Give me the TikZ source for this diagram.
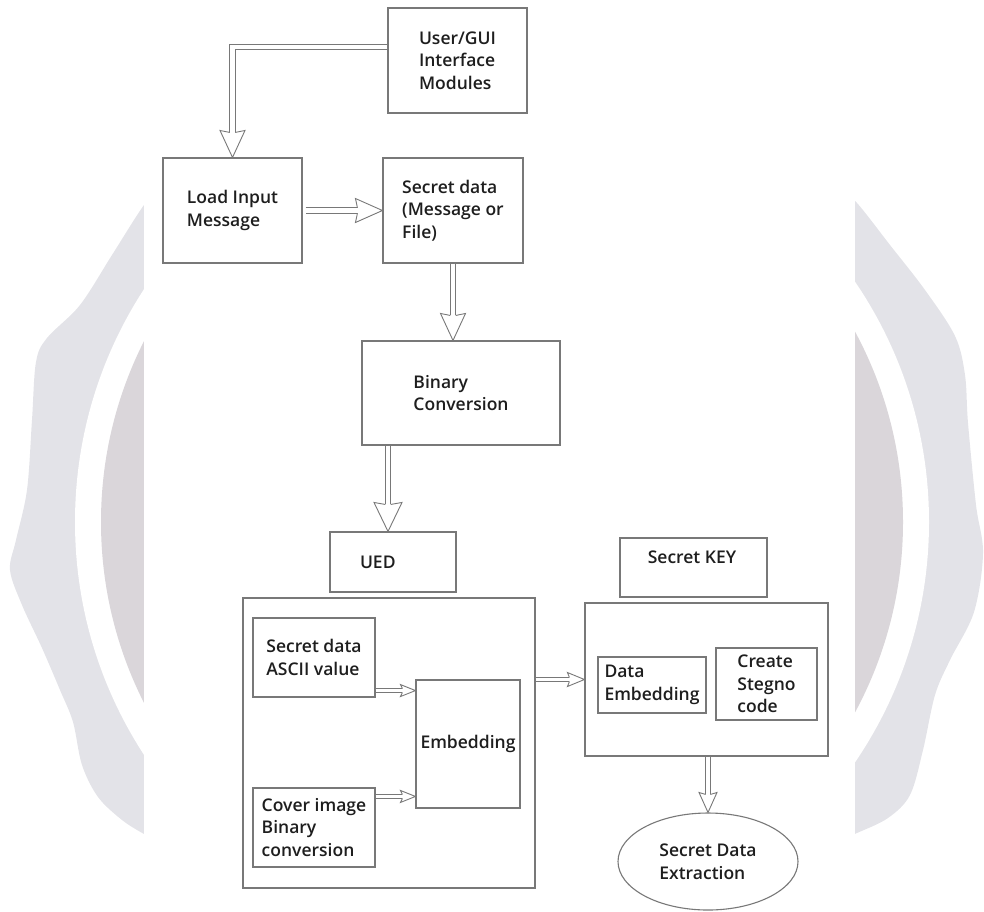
\documentclass[tikz,border=0pt]{standalone}
\usepackage{fontspec}
\setmainfont{Open Sans}
\newfontfamily\boxfont{Open Sans}[UprightFont={* Semibold}]
\usetikzlibrary{calc,shapes.geometric}
\definecolor{wmout}{RGB}{227,227,232}
\definecolor{wmin}{RGB}{218,214,218}
\definecolor{edge}{RGB}{120,120,120}
\definecolor{txt}{RGB}{30,30,30}
\tikzset{
  box/.style={draw=edge, line width=1.1pt, rectangle, inner sep=0pt, align=left,
    text=txt, font=\boxfont\fontsize{17.5}{22.5}\selectfont},
  lbl/.style={inner sep=0pt, align=left, text=txt, font=\boxfont\fontsize{17.5}{22.5}\selectfont},
  bigshaft/.style={draw=edge, line width=0.9pt, double=white, double distance=4.5pt},
  smallshaft/.style={draw=edge, line width=0.8pt, double=white, double distance=3.2pt},
  headline/.style={draw=edge, line width=0.9pt, line join=miter},
}
% #1 tip, #2 canvas angle of travel, #3 head length, #4 half width, #5 half gap
\newcommand\ahead[5]{%
  \begin{scope}[shift={#1},rotate=#2]
    \draw[headline] (-#3,#5) -- (-#3-2,#4) -- (0,0) -- (-#3-2,-#4) -- (-#3,-#5);
  \end{scope}}
\begin{document}
\begin{tikzpicture}[x=1pt,y=-1pt]
\useasboundingbox (0,0) rectangle (984,911);
% watermark (only the parts outside the central white band show)
\fill[wmout] plot[smooth, tension=0.55] coordinates {(160,190) (144,205) (112,255) (80,305) (47,338) (36,362) (32,420) (27,490) (16,540) (10,570) (22,605) (42,648) (60,690) (73,722) (82,765) (98,797) (122,820) (144,834) (160,842)} -- (200,842) -- (200,190) -- cycle;
\fill[wmout] plot[smooth, tension=0.55] coordinates {(840,190) (857,203) (890,245) (925,290) (955,336) (965,375) (968,423) (976,505) (983,553) (974,612) (950,660) (935,695) (923,750) (910,795) (888,818) (857,833) (840,840)} -- (800,840) -- (800,190) -- cycle;
\fill[white] (502,522) circle[radius=427pt];
\fill[wmin] (502,522) circle[radius=401pt];
\fill[white] (144,-2) rectangle (855,913);

% boxes
\node[box, minimum width=139pt, minimum height=105pt] (gui) at (457.5,60.5) {User/GUI\\Interface\\Modules};
\node[box, minimum width=139pt, minimum height=105pt] (load) at (232.5,210.5) {Load Input\\Message};
\node[box, minimum width=140pt, minimum height=105pt] (sd) at (453,210.5) {Secret data\\(Message or\\File)};
\node[box, minimum width=198pt, minimum height=104pt] (bc) at (461,393) {Binary\\Conversion};
\node[box, minimum width=126pt, minimum height=60pt, text width=66pt] (ued) at (393,562) {UED};
\node[box, minimum width=292pt, minimum height=290pt] (uedc) at (389,743) {};
\node[box, minimum width=122pt, minimum height=79pt] (sdascii) at (314,657.5) {Secret data\\ASCII value};
\node[box, minimum width=122pt, minimum height=79pt] (cover) at (314,827.5) {Cover image\\Binary\\conversion};
\node[box, minimum width=104pt, minimum height=128pt] (emb) at (468,744) {Embedding};
\node[box, minimum width=147pt, minimum height=59pt] (sk) at (693.5,567.5) {};
\node[lbl] (skt) at (692,557) {Secret KEY};
\node[box, minimum width=243pt, minimum height=153pt] (skbox) at (706.5,679.5) {};
\node[box, minimum width=108pt, minimum height=56pt] (de) at (652,685) {Data\\Embedding};
\node[box, minimum width=101pt, minimum height=72pt] (csc) at (766.5,684) {Create\\Stegno\\code};
\node[box, ellipse, minimum width=180pt, minimum height=97pt] (ell) at (708,861.5) {Secret Data\\Extraction};

% connectors
\draw[bigshaft, shorten >=25pt] ([yshift=13.5pt]gui.west) -| (load.north);
\ahead{(load.north)}{-90}{25}{12.5}{2.7}

\coordinate (l1) at ([xshift=3pt]load.east);
\draw[bigshaft, shorten >=25pt] (l1) -- (sd.west);
\ahead{(sd.west)}{0}{25}{12}{2.7}

\coordinate (b1) at (sd.south |- bc.north);
\draw[bigshaft, shorten >=25pt] (sd.south) -- (b1);
\ahead{(b1)}{-90}{25}{12.5}{2.7}

\coordinate (uedtop) at ([xshift=-5pt]ued.north);
\coordinate (u0) at (uedtop |- bc.south);
\draw[bigshaft, shorten >=27pt] (u0) -- (uedtop);
\ahead{(uedtop)}{-90}{27}{14}{2.7}

\coordinate (a1) at ([yshift=7pt]sdascii.south east);
\coordinate (a2) at (a1 -| emb.west);
\draw[smallshaft, shorten >=13pt] (a1) -- (a2);
\ahead{(a2)}{0}{13}{6}{2}

\coordinate (c1) at ([yshift=-9pt]cover.north east);
\coordinate (c2) at (c1 -| emb.west);
\draw[smallshaft, shorten >=13pt] (c1) -- (c2);
\ahead{(c2)}{0}{13}{6}{2}

\coordinate (e1) at (uedc.east |- skbox.west);
\draw[smallshaft, shorten >=15pt] (e1) -- (skbox.west);
\ahead{(skbox.west)}{0}{15}{7}{2}

\coordinate (s1) at (ell.north |- skbox.south);
\draw[bigshaft, double distance=3.8pt, shorten >=18pt] (s1) -- (ell.north);
\ahead{(ell.north)}{-90}{18}{9}{2.35}
\end{tikzpicture}
\end{document}
